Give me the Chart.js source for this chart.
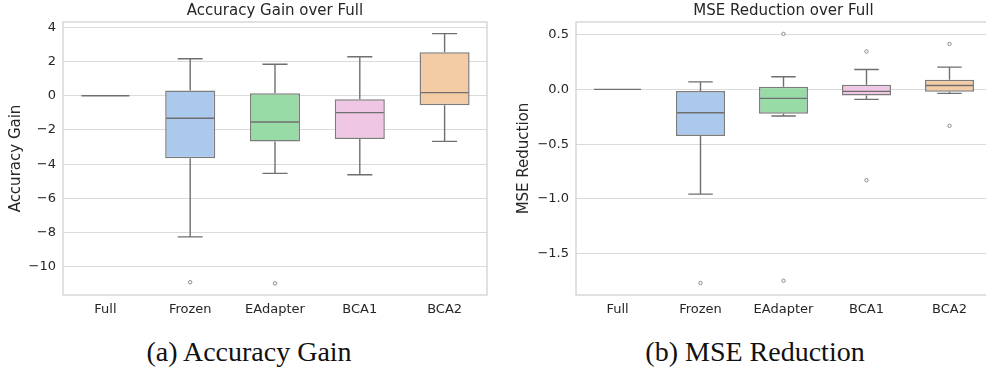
<!DOCTYPE html>
<html>
<head>
<meta charset="utf-8">
<script src="https://cdn.jsdelivr.net/npm/chart.js@4.4.1/dist/chart.umd.min.js"></script>
<style>
  html, body { margin: 0; padding: 0; background: #fff; overflow: hidden; }
  body { width: 986px; height: 371px; position: relative; }
  .panel { position: absolute; top: 0; height: 325px; }
  .cap { position: absolute; top: 338px; font-family: "Liberation Serif", "DejaVu Serif", serif;
         font-size: 28px; line-height: 28px; color: #111; text-align: center; white-space: nowrap; }
</style>
</head>
<body>
<div class="panel" style="left:0;width:493px"><canvas id="acc"></canvas></div>
<div class="panel" style="left:493px;width:503px"><canvas id="mse"></canvas></div>
<div class="cap" style="left:0;width:498px">(a) Accuracy Gain</div>
<div class="cap" style="left:493px;width:524px">(b) MSE Reduction</div>
<script>
const categories = ['Full', 'Frozen', 'EAdapter', 'BCA1', 'BCA2'];
const boxColors = ['#b0b0b0', '#abc9ec', '#98dba7', '#efc6e3', '#f3cba4'];

// accuracy gain (left)
const accQ1 = [0, -3.66, -2.67, -2.53, -0.56];
const accQ3 = [0, 0.31, 0.14, -0.21, 2.54];
const accMed = [0, -1.32, -1.54, -0.99, 0.18];
const accLow = [0, -8.25, -4.54, -4.62, -2.67];
const accHigh = [0, 2.16, 1.84, 2.28, 3.63];
const accOutliers = [null, -10.9, -10.97, null, null];
const accTicks = { min: -11.65, max: 4.31, step: 2 };

// MSE reduction (right)
const mseQ1 = [0, -0.425, -0.222, -0.055, -0.022];
const mseQ3 = [0, -0.015, 0.024, 0.042, 0.087];
const mseMed = [0, -0.213, -0.082, -0.018, 0.036];
const mseLow = [0, -0.956, -0.243, -0.091, -0.036];
const mseHigh = [0, 0.069, 0.115, 0.182, 0.203];
const mseOutHigh = [null, null, 0.506, 0.346, 0.415];
const mseOutLow = [null, -1.767, -1.746, -0.829, -0.332];
const mseTicks = { min: -1.876, max: 0.615, step: 0.5 };

const lineGray = '#6f6f6f';
const textColor = '#262626';

// box extras: frame, whiskers, caps, medians
const boxPlugin = {
  id: 'boxExtras',
  beforeDatasetsDraw(chart) {
    const { ctx, chartArea: a } = chart;
    ctx.save();
    ctx.strokeStyle = '#cfcfcf';
    ctx.lineWidth = 1.25;
    ctx.strokeRect(a.left, a.top, a.right - a.left, a.bottom - a.top);
    ctx.restore();
  },
  afterDatasetsDraw(chart) {
    const { ctx } = chart;
    const y = chart.scales.y;
    const ds = chart.data.datasets[0];
    const meta = chart.getDatasetMeta(0);
    ctx.save();
    ctx.strokeStyle = lineGray;
    ctx.lineWidth = 1.4;
    meta.data.forEach((bar, i) => {
      const x = bar.x, w = bar.width;
      const q1 = y.getPixelForValue(ds.q1[i]);
      const q3 = y.getPixelForValue(ds.q3[i]);
      const lo = y.getPixelForValue(ds.low[i]);
      const hi = y.getPixelForValue(ds.high[i]);
      const md = y.getPixelForValue(ds.med[i]);
      ctx.beginPath();
      if (ds.high[i] > ds.q3[i]) {
        ctx.moveTo(x, q3); ctx.lineTo(x, hi);
        ctx.moveTo(x - w / 4, hi); ctx.lineTo(x + w / 4, hi);
      }
      if (ds.low[i] < ds.q1[i]) {
        ctx.moveTo(x, q1); ctx.lineTo(x, lo);
        ctx.moveTo(x - w / 4, lo); ctx.lineTo(x + w / 4, lo);
      }
      ctx.moveTo(x - w / 2 + 1, md); ctx.lineTo(x + w / 2 - 1, md);
      ctx.stroke();
    });
    ctx.restore();
  }
};

function minus(v) { return String(v).replace('-', '\u2212'); }

function makeChart(id, cfg) {
  const datasets = [{
    type: 'bar',
    data: cfg.q1.map((v, i) => [v, cfg.q3[i]]),
    q1: cfg.q1, q3: cfg.q3, med: cfg.med, low: cfg.low, high: cfg.high,
    backgroundColor: boxColors,
    borderColor: '#7c7c7c',
    borderWidth: 1.5,
    borderSkipped: false,
    barPercentage: 0.59,
    categoryPercentage: 1.0,
    order: 2
  }];
  cfg.outliers.forEach(o => datasets.push({
    type: 'line',
    data: o,
    showLine: false,
    pointRadius: 1.7,
    pointBorderWidth: 1,
    pointBorderColor: '#8a8a8a',
    pointBackgroundColor: '#ffffff',
    order: 1
  }));
  return new Chart(document.getElementById(id), {
    type: 'bar',
    data: { labels: categories, datasets: datasets },
    plugins: [boxPlugin],
    options: {
      responsive: true,
      maintainAspectRatio: false,
      animation: false,
      layout: { padding: { left: 0, right: cfg.padRight, top: 0, bottom: 0 } },
      plugins: {
        legend: { display: false },
        tooltip: { enabled: false },
        title: {
          display: true,
          text: cfg.title,
          fullSize: false,
          color: textColor,
          font: { family: 'DejaVu Sans', size: 15, weight: 'normal' },
          padding: { top: 2, bottom: 2 }
        }
      },
      scales: {
        x: {
          grid: { display: false, drawTicks: false },
          border: { display: false },
          ticks: { color: textColor, font: { family: 'DejaVu Sans', size: 13 }, padding: 7 },
          afterFit: s => { s.height = 30; }
        },
        y: {
          min: cfg.ticks.min,
          max: cfg.ticks.max,
          grid: { color: '#dadada', lineWidth: 1, drawTicks: false },
          border: { display: false },
          ticks: {
            stepSize: cfg.ticks.step,
            includeBounds: false,
            color: textColor,
            padding: 7,
            font: { family: 'DejaVu Sans', size: 13 },
            callback: v => minus(cfg.fmt(v))
          },
          title: {
            display: true,
            text: cfg.yTitle,
            color: textColor,
            font: { family: 'DejaVu Sans', size: 15 },
            padding: { top: cfg.titlePad, bottom: 0 }
          },
          afterFit: s => { s.width = cfg.axisWidth; }
        }
      }
    }
  });
}

makeChart('acc', {
  title: 'Accuracy Gain over Full', yTitle: 'Accuracy Gain',
  q1: accQ1, q3: accQ3, med: accMed, low: accLow, high: accHigh,
  outliers: [accOutliers], ticks: accTicks,
  fmt: v => Math.round(v).toString(),
  axisWidth: 63, titlePad: 6.7, padRight: 6
});

makeChart('mse', {
  title: 'MSE Reduction over Full', yTitle: 'MSE Reduction',
  q1: mseQ1, q3: mseQ3, med: mseMed, low: mseLow, high: mseHigh,
  outliers: [mseOutHigh, mseOutLow], ticks: mseTicks,
  fmt: v => v.toFixed(1),
  axisWidth: 83, titlePad: 21.7, padRight: 2
});
</script>
</body>
</html>
